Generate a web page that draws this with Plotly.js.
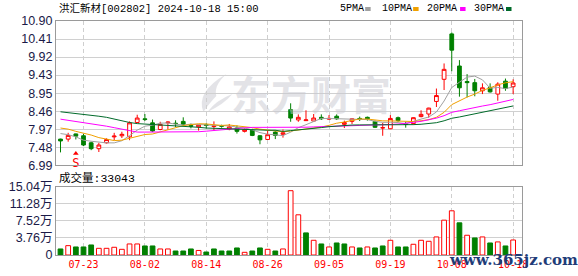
<!DOCTYPE html>
<html><head><meta charset="utf-8">
<script src="https://cdn.plot.ly/plotly-3.0.1.min.js"></script>
<style>html,body{margin:0;padding:0;background:#fff;}#chart{width:578px;height:276px;}</style>
</head><body><div id="chart"></div>
<script>
// ---- data ----
const dates = ['07-18','07-19','07-22','07-23','07-24','07-25','07-26','07-29','07-30','07-31',
 '08-01','08-02','08-05','08-06','08-07','08-08','08-09','08-12','08-13','08-14',
 '08-15','08-16','08-19','08-20','08-21','08-22','08-23','08-26','08-27','08-28',
 '08-29','08-30','09-02','09-03','09-04','09-05','09-06','09-09','09-10','09-11',
 '09-12','09-13','09-18','09-19','09-20','09-23','09-24','09-25','09-26','09-27',
 '09-30','10-08','10-09','10-10','10-11','10-14','10-15','10-16','10-17','10-18'];
const opens = [7.70,7.70,7.84,7.79,7.60,7.44,7.60,7.76,7.79,7.76,
 8.15,8.25,8.14,7.96,8.14,8.13,8.18,8.07,8.03,8.09,
 8.04,8.06,7.97,8.00,7.91,7.94,7.79,7.69,7.89,7.83,
 8.50,8.22,8.20,8.19,8.29,8.24,8.32,8.10,8.18,8.26,
 8.29,8.18,8.00,7.98,8.28,8.11,8.12,8.31,8.38,8.72,
 9.32,10.55,9.68,9.26,9.23,9.01,9.10,8.92,9.27,9.12];
const highs = [7.71,7.87,7.85,7.84,7.63,7.60,7.72,7.87,7.90,8.18,
 8.36,8.38,8.23,8.17,8.18,8.21,8.29,8.12,8.10,8.13,
 8.18,8.09,8.11,8.07,7.99,7.98,7.81,7.94,7.94,7.96,
 8.67,8.37,8.48,8.38,8.37,8.35,8.37,8.20,8.26,8.31,
 8.31,8.20,8.14,8.35,8.31,8.17,8.29,8.48,8.55,9.07,
 9.75,10.59,9.84,9.46,9.33,9.21,9.21,9.24,9.34,9.32];
const lows = [7.34,7.63,7.69,7.51,7.40,7.35,7.58,7.67,7.73,7.67,
 8.14,8.19,7.89,7.94,7.96,8.03,8.05,7.99,7.93,7.99,
 7.94,8.01,7.94,7.85,7.88,7.78,7.56,7.68,7.70,7.74,
 8.17,8.17,8.19,8.18,8.22,8.22,8.22,8.00,8.11,8.19,
 8.20,8.00,7.79,7.97,8.17,8.01,8.09,8.29,8.28,8.57,
 9.03,9.54,8.85,8.83,8.86,8.92,8.96,8.74,9.01,8.92];
const closes = [7.65,7.80,7.78,7.54,7.44,7.54,7.69,7.78,7.83,8.14,
 8.27,8.23,7.92,8.10,8.16,8.12,8.10,8.05,8.08,8.07,
 8.06,8.05,8.03,7.91,7.96,7.80,7.68,7.82,7.80,7.87,
 8.27,8.29,8.22,8.27,8.25,8.26,8.25,8.15,8.25,8.24,
 8.25,8.02,8.01,8.26,8.20,8.10,8.28,8.37,8.54,8.88,
 9.59,10.11,9.09,9.23,9.01,9.09,8.98,9.19,9.07,9.22];
const volumes = [13300,20600,17700,17700,22100,14700,14700,17000,12500,24300,
 24300,19900,19900,13300,13300,8800,8800,13300,10000,6600,
 13300,8800,8800,15500,5900,8800,15500,12500,8800,13300,
 141600,88500,48700,32400,24300,17700,26500,24300,17700,15500,
 17700,15500,19900,32400,17700,17700,23600,32400,30200,39800,
 76700,97300,70800,43500,37600,39800,26500,28800,19900,33043];
// moving-average values at the start of the window (they depend on days before it)
const ma5Head  = [7.85,7.82,7.76,7.67];
const ma10Head = [8.00,7.97,7.91,7.87,7.81,7.74,7.69,7.66,7.67];
const ma20Head = [8.24,8.21,8.19,8.15,8.12,8.08,8.05,8.01,7.97,7.92,
 7.89,7.89,7.89,7.88,7.88,7.88,7.89,7.89,7.90];
const ma30Head = [8.44,8.42,8.40,8.38,8.36,8.32,8.29,8.24,8.19,8.15,
 8.12,8.11,8.10,8.09,8.08,8.07,8.06,8.04,8.02,8.00,
 7.99,7.98,7.97,7.96,7.95,7.95,7.94,7.94,7.94];
const maNames  = ['5PMA','10PMA','20PMA','30PMA'];
const tickDates = ['07-23','08-02','08-14','08-26','09-05','09-19','10-08','10-18'];
const priceTickLabels = ['6.99','7.48','7.97','8.46','8.95','9.43','9.92','10.41','10.90'];
const volTickLabels = ['0','3.76万','7.52万','11.28万','15.04万'];
const volMax = 150400;
const stockTitle = '洪汇新材[002802] 2024-10-18 15:00';
const volLabel = '成交量:33043';
const signalIdx = [2];
const signalPrice = [7.31];
const signalText = ['S'];

// ---- derived ----
const idx = dates.map((d,i)=>i);
function ma(n, head){
  return closes.map((c,i)=>{
    if(i < n-1) return head[i];
    let s=0; for(let k=i-n+1;k<=i;k++) s+=closes[k];
    return s/n;
  });
}
const mas = [ma(5,ma5Head), ma(10,ma10Head), ma(20,ma20Head), ma(30,ma30Head)];
const maColors = ['#a0a0a0','#f0a000','#ff00ff','#006a2a'];
const RED='#ff0000', GREEN='#008000';
const volUp = closes.map((c,i)=> i===0 ? c>=opens[0] : c>=closes[i-1]);
const tickIdx = tickDates.map(d=>dates.indexOf(d));
const pMin = +priceTickLabels[0], pMax = +priceTickLabels[priceTickLabels.length-1];
const pTickVals = priceTickLabels.map((t,k)=> pMin + k*(pMax-pMin)/(priceTickLabels.length-1));
const vTickVals = volTickLabels.map((t,k)=> k*volMax/(volTickLabels.length-1));

const traces = [];
mas.forEach((m,k)=>traces.push({type:'scatter',mode:'lines',x:idx,y:m,xaxis:'x',yaxis:'y',
  line:{color:maColors[k],width:1},hoverinfo:'skip',showlegend:false}));
traces.push({type:'candlestick',x:idx,open:opens,high:highs,low:lows,close:closes,
  xaxis:'x',yaxis:'y',whiskerwidth:0,
  increasing:{line:{color:RED,width:1},fillcolor:'#ffffff'},
  decreasing:{line:{color:GREEN,width:1},fillcolor:GREEN},
  hoverinfo:'skip',showlegend:false});
traces.push({type:'scatter',mode:'markers+text',x:signalIdx,y:signalPrice,text:signalText,
  textposition:'bottom center',textfont:{family:'DejaVu Sans Mono',size:12,color:RED},
  marker:{symbol:'triangle-up',size:5,color:RED},cliponaxis:false,xaxis:'x',yaxis:'y',
  hoverinfo:'skip',showlegend:false});
traces.push({type:'bar',x:idx,y:volumes,xaxis:'x',yaxis:'y2',width:0.62,
  marker:{color:volUp.map(u=>u?'#ffffff':GREEN),line:{color:volUp.map(u=>u?RED:GREEN),width:1}},
  hoverinfo:'skip',showlegend:false});

const L=55.5, R=522, T=21, B=255;
const PX = p => (p-L)/(R-L), PY = p => (B-p)/(B-T);
const WM = 'rgba(200,200,208,0.5)';
const annotations = [
  {text:stockTitle,x:PX(57),y:PY(9),xref:'paper',yref:'paper',xanchor:'left',yanchor:'middle',showarrow:false,
   font:{family:'Liberation Mono, Noto Sans CJK SC',size:10.5,color:'#000'}},
  {text:volLabel,x:PX(57),y:PY(178),xref:'paper',yref:'paper',xanchor:'left',yanchor:'middle',showarrow:false,
   font:{family:'Liberation Mono, Noto Sans CJK SC',size:11.5,color:'#000'}},
  {text:'东方财富',x:PX(311),y:PY(93),xref:'paper',yref:'paper',xanchor:'center',yanchor:'middle',showarrow:false,
   font:{family:'Noto Sans CJK SC',size:40,color:WM,weight:'bold'}},
  {text:'www.365jz.com',x:PX(513),y:PY(260),xref:'paper',yref:'paper',xanchor:'center',yanchor:'middle',showarrow:false,
   font:{family:'DejaVu Serif',size:15,color:'#1f3c78',weight:'bold'}}
];
const legX = [338,380,425,472], legBox=[365,413,460,506];
const shapes = [];
maNames.forEach((n,k)=>{
  annotations.push({text:n,x:PX(legX[k]),y:PY(9),xref:'paper',yref:'paper',xanchor:'left',yanchor:'middle',
    showarrow:false,font:{family:'Liberation Mono',size:10,color:'#000'}});
  shapes.push({type:'rect',xref:'paper',yref:'paper',x0:PX(legBox[k]),x1:PX(legBox[k]+5.5),y0:PY(11),y1:PY(7),
    fillcolor:maColors[k],line:{width:0}});
});
// watermark logo (stylised flame) in paper coordinates
function pth(pts){ return pts.map((p,i)=>(i===0?'M':p[2]?'Q':'L')+' '+(p[2]? PX(p[0])+','+PY(p[1])+' '+PX(p[2])+','+PY(p[3]) : PX(p[0])+','+PY(p[1]))).join(' ')+' Z'; }
shapes.push({type:'path',xref:'paper',yref:'paper',layer:'below',
  path:pth([[203,112],[195,92,226,74],[213,86,216,96],[210,102,203,112]]),fillcolor:WM,line:{width:0}});
shapes.push({type:'path',xref:'paper',yref:'paper',layer:'below',
  path:pth([[207,112],[216,100,232,94],[224,104,207,112]]),fillcolor:WM,line:{width:0}});

const layout = {
  width:578,height:276,paper_bgcolor:'#fff',plot_bgcolor:'#fff',
  margin:{l:L,r:578-R,t:T,b:276-B,pad:0},
  showlegend:false,bargap:0,
  xaxis:{range:[(L-60)/7.68,(R-60)/7.68],anchor:'y2',tickvals:tickIdx,ticktext:tickDates,
    showgrid:true,gridcolor:'#cfcfcf',griddash:'4px,3px',gridwidth:1,
    showline:true,linecolor:'#9a9a9a',linewidth:1,mirror:'all',ticks:'',zeroline:false,
    tickfont:{family:'DejaVu Sans Mono',size:10,color:RED},rangeslider:{visible:false},fixedrange:true},
  yaxis:{domain:[PY(165.3),1],range:[pMin,pMax],tickvals:pTickVals,ticktext:priceTickLabels,
    showgrid:true,gridcolor:'#d0d0d0',showline:true,linecolor:'#9a9a9a',mirror:true,ticks:'',zeroline:false,
    tickfont:{family:'Liberation Sans',size:12.5,color:'#1a1a48'},fixedrange:true},
  yaxis2:{domain:[0,PY(186.7)],range:[0,volMax],tickvals:vTickVals,ticktext:volTickLabels,
    showgrid:true,gridcolor:'#d0d0d0',showline:true,linecolor:'#9a9a9a',mirror:true,ticks:'',zeroline:false,
    tickfont:{family:'Liberation Sans, Noto Sans CJK SC',size:12.5,color:'#1a1a48'},fixedrange:true},
  annotations:annotations,shapes:shapes
};
Plotly.newPlot('chart',traces,layout,{staticPlot:true,displayModeBar:false});
</script></body></html>
